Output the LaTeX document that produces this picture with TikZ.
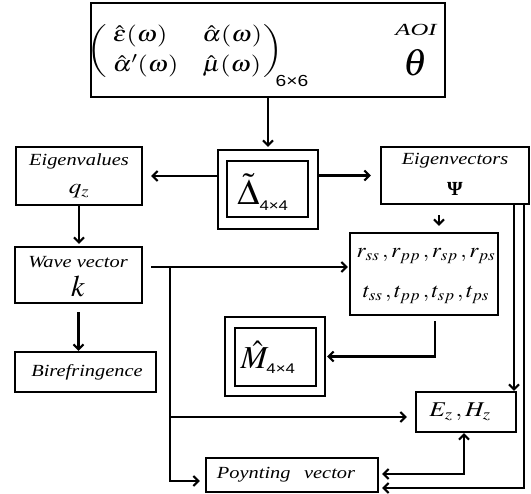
\documentclass[tikz,border=0pt]{standalone}
\usepackage{mathptmx}
\usepackage{graphicx}
\usepackage{fontspec}
\setmainfont{Liberation Serif}
\newfontfamily\subsans{Liberation Sans}
\usetikzlibrary{arrows.meta}
\newcommand{\hs}[1]{\scalebox{1.2}[1]{#1}}
\newcommand{\sxs}[1]{\mbox{\scalebox{1.2}[1]{\subsans\fontsize{14}{14}\selectfont #1}}}
\begin{document}
\begin{tikzpicture}[x=1pt,y=-1pt,
  line width=2.1pt,
  >={Straight Barb[length=5pt,width=10pt]},
  box/.style={draw, line width=2.1pt, inner sep=0pt},
  lab/.style={inner sep=0pt, font=\fontsize{17}{20}\selectfont\itshape},
  mth/.style={inner sep=0pt, font=\fontsize{21}{24}\selectfont}]
\useasboundingbox (0,0) rectangle (531,494);

% boxes
\node[box, minimum width=354pt, minimum height=94pt] (top) at (268,50) {};
\node[box, minimum width=126pt, minimum height=58pt] (eval) at (79,176) {};
\node[box, minimum width=100pt, minimum height=79pt] (dOut) at (268,189.5) {};
\node[box, minimum width=81pt, minimum height=56pt] (dIn) at (267.5,189) {};
\node[box, minimum width=148pt, minimum height=57pt] (evec) at (455,175.5) {};
\node[box, minimum width=127pt, minimum height=56pt] (wave) at (78.5,275) {};
\node[box, minimum width=148pt, minimum height=82pt] (r) at (424,274) {};
\node[box, minimum width=141pt, minimum height=40pt] (bire) at (85.5,372) {};
\node[box, minimum width=100pt, minimum height=79pt] (mOut) at (275,356.5) {};
\node[box, minimum width=81pt, minimum height=58pt] (mIn) at (275.5,357) {};
\node[box, minimum width=100pt, minimum height=40pt] (ez) at (466,412) {};
\node[box, minimum width=172pt, minimum height=34pt] (poy) at (292,475) {};

% texts
\node[inner sep=0pt, font=\fontsize{22}{25}\selectfont] (mat) at (185,51.5)
  {\delimiterfactor=800 \delimitershortfall=14pt
   \hs{$\left(\begin{array}{@{\hspace{5pt}}l@{\hspace{20pt}}l@{\hspace{1pt}}}\hat{\varepsilon}(\omega) & \hat{\alpha}(\omega)\\[5pt]
   \hat{\alpha}'(\omega) & \hat{\mu}(\omega)\end{array}\right)$}};
\node[inner sep=0pt, font=\subsans\fontsize{16}{16}\selectfont] (matsub) at (292,81) {\hs{6×6}};
\node[inner sep=0pt, font=\fontsize{17}{17}\selectfont\itshape] (aoi) at (416,30) {\scalebox{1.45}[1]{AOI}};
\node[inner sep=0pt, font=\fontsize{38}{38}\selectfont] (theta) at (416,63) {$\theta$};

\node[lab] (evalT) at (79,161) {\hs{Eigenvalues}};
\node[mth] (evalQ) at (79,191) {\hs{$q_z$}};
\node[inner sep=0pt, font=\fontsize{36}{36}\selectfont] (dT) at (263,192) {$\tilde{\Delta}_{\sxs{4×4}}$};
\node[lab] (evecT) at (455,161) {\hs{Eigenvectors}};
\node[inner sep=0pt, font=\fontsize{20}{20}\selectfont\bfseries] (evecP) at (455,189) {Ψ};
\node[lab] (waveT) at (78,262) {\hs{Wave vector}};
\node[inner sep=0pt, font=\fontsize{30}{30}\selectfont] (waveK) at (78,286) {$k$};
\node[mth] (rrow) at (426,256) {\scalebox{1.1}[1]{$r_{ss}\,, r_{pp}\,, r_{sp}\,, r_{ps}$}};
\node[mth] (trow) at (426,295) {\scalebox{1.1}[1]{$t_{ss}\,, t_{pp}\,, t_{sp}\,, t_{ps}$}};
\node[lab] (bireT) at (87,372) {\hs{Birefringence}};
\node[inner sep=0pt, font=\fontsize{32}{32}\selectfont] (mT) at (268,357) {$\hat{M}_{\sxs{4×4}}$};
\node[mth] (ezT) at (460,412) {\hs{$E_z\,, H_z$}};
\node[lab] (poyT) at (286,475) {\hs{Poynting\hspace{7pt} vector}};

% helper coordinates
\coordinate (ex) at (439,0);
\coordinate (wy) at (0,267);
\coordinate (bx) at (170,267);
\coordinate (ezy) at (0,417);
\coordinate (py) at (0,481);
\coordinate (rx) at (435,0);
\coordinate (xa) at (514,0);
\coordinate (xb) at (524,0);
\coordinate (yb) at (0,488);
\coordinate (ya) at (0,474);
\coordinate (xc) at (464,0);

% connectors
\draw[->, shorten >=2pt] (top.south) -- (dOut.north);
\draw[->, shorten >=8pt] (dOut.west |- eval.east) -- (eval.east);
\draw[->, shorten >=9pt] (dOut.east |- evec.west) -- (evec.west);
\draw[->, shorten <=10pt, shorten >=6pt] (evec.south -| ex) -- (r.north -| ex);
\draw[->, shorten >=2pt] (eval.south) -- (wave.north -| eval.south);
\draw[->, shorten <=8pt, shorten >=1pt] (wave.east |- wy) -- (r.west |- wy);
\draw[->, shorten >=5pt] (bx) |- (poy.west |- py);
\draw[->, shorten >=8pt] (bx |- ezy) -- (ez.west |- ezy);
\draw[->, shorten <=8pt] (wave.south) -- (bire.north -| wave.south);
\draw[->, shorten <=5pt, shorten >=1pt] (r.south -| rx) |- (mOut.east);
\draw[->] (evec.south -| xa) -- (ez.north -| xa);
\draw[->, shorten >=3pt] (evec.south -| xb) |- (poy.east |- yb);
\draw[<->, shorten <=3pt] (poy.east |- ya) -| (ez.south -| xc);
\end{tikzpicture}
\end{document}
